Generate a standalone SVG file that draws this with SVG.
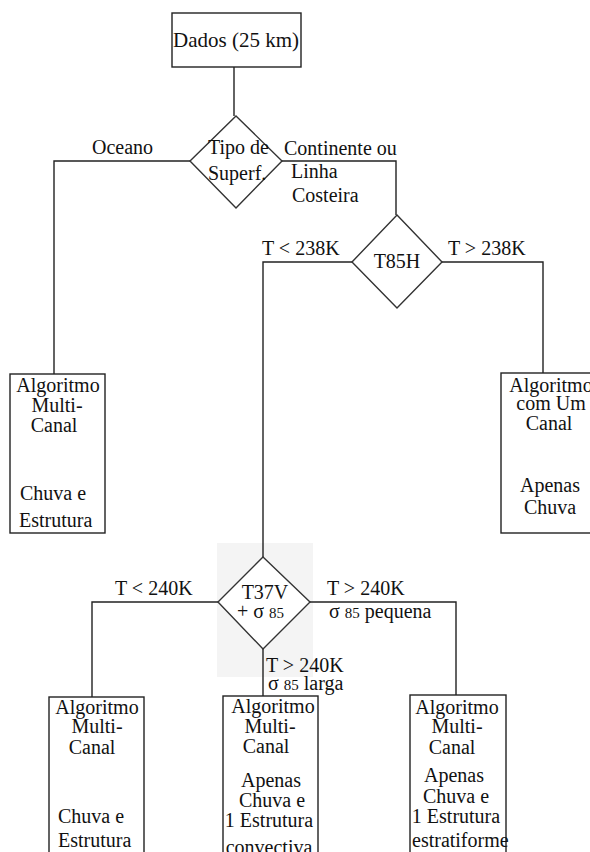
<svg xmlns="http://www.w3.org/2000/svg" width="590" height="852" viewBox="0 0 590 852" font-family="'Liberation Serif', 'Times New Roman', 'DejaVu Serif', serif">
<style>
text{font-family:'Liberation Serif','Times New Roman','DejaVu Serif',serif;font-size:20px;fill:#111}
.c{text-anchor:middle}
.s{font-size:15px}
.box{fill:#fff;stroke:#222;stroke-width:1.4}
.dia{fill:#fff;stroke:#333;stroke-width:1.4}
.ln{fill:none;stroke:#222;stroke-width:1.4}
</style>
<rect width="590" height="852" fill="#fff"/>
<rect x="217" y="543" width="96" height="134" fill="#f4f4f4"/>
<g id="connectors">
<path class="ln" d="M234,67 V116"/>
<path class="ln" d="M190,161 H54 V374"/>
<path class="ln" d="M282,161 H396 V215"/>
<path class="ln" d="M352,262 H263 V557"/>
<path class="ln" d="M442,262 H543 V373"/>
<path class="ln" d="M218,602 H92 V697"/>
<path class="ln" d="M310,602 H456 V695"/>
<path class="ln" d="M263,649 V696"/>
</g>
<g id="edge-labels">
<text x="92" y="154">Oceano</text>
<text x="284" y="155">Continente ou</text>
<text x="291" y="178">Linha</text>
<text x="292" y="202">Costeira</text>
<text x="262" y="255">T &lt; 238K</text>
<text x="448" y="255">T &gt; 238K</text>
<text x="115" y="595">T &lt; 240K</text>
<text x="327" y="595">T &gt; 240K</text>
<text x="329" y="618">σ <tspan class="s">85</tspan> pequena</text>
<text x="266" y="672">T &gt; 240K</text>
<text x="268" y="690">σ <tspan class="s">85</tspan> larga</text>
</g>
<g id="dados">
<rect class="box" x="172" y="13" width="129" height="54"/>
<text x="173" y="47" style="font-size:21px">Dados (25 km)</text>
</g>
<g id="tipo-superf">
<path class="dia" d="M236,116 L282,161 L236,208 L190,161 Z"/>
<text x="208" y="154">Tipo de</text>
<text x="208" y="180">Superf.</text>
</g>
<g id="t85h">
<path class="dia" d="M397,215 L442,262 L397,308 L352,262 Z"/>
<text class="c" x="397" y="268">T85H</text>
</g>
<g id="alg-oceano">
<rect class="box" x="10" y="374" width="95" height="159"/>
<text class="c" x="58" y="392">Algoritmo</text>
<text class="c" x="57" y="412">Multi-</text>
<text class="c" x="54" y="432">Canal</text>
<text x="20" y="500">Chuva e</text>
<text x="19" y="527">Estrutura</text>
</g>
<g id="alg-um-canal">
<rect class="box" x="501" y="373" width="100" height="160"/>
<text class="c" x="551" y="392">Algoritmo</text>
<text class="c" x="551" y="410">com Um</text>
<text class="c" x="549" y="430">Canal</text>
<text class="c" x="550" y="492">Apenas</text>
<text class="c" x="550" y="514">Chuva</text>
</g>
<g id="t37v">
<path class="dia" d="M263,557 L310,602 L263,649 L218,602 Z"/>
<text class="c" x="265" y="599">T37V</text>
<text x="237" y="618">+ σ <tspan class="s">85</tspan></text>
</g>
<g id="alg-left">
<rect class="box" x="49" y="697" width="95" height="180"/>
<text class="c" x="97" y="714">Algoritmo</text>
<text class="c" x="97" y="733">Multi-</text>
<text class="c" x="92" y="754">Canal</text>
<text x="58" y="823">Chuva e</text>
<text x="58" y="847">Estrutura</text>
</g>
<g id="alg-mid">
<rect class="box" x="223" y="696" width="95" height="180"/>
<text class="c" x="273" y="713">Algoritmo</text>
<text class="c" x="270" y="733">Multi-</text>
<text class="c" x="266" y="753">Canal</text>
<text class="c" x="271" y="787">Apenas</text>
<text class="c" x="272" y="807">Chuva e</text>
<text class="c" x="269" y="827">1 Estrutura</text>
<text class="c" x="269" y="854">convectiva</text>
</g>
<g id="alg-right">
<rect class="box" x="410" y="695" width="96" height="180"/>
<text class="c" x="457" y="714">Algoritmo</text>
<text class="c" x="457" y="733">Multi-</text>
<text class="c" x="452" y="754">Canal</text>
<text class="c" x="454" y="782">Apenas</text>
<text class="c" x="456" y="803">Chuva e</text>
<text class="c" x="456" y="823">1 Estrutura</text>
<text x="412" y="847">estratiforme</text>
</g>
</svg>
